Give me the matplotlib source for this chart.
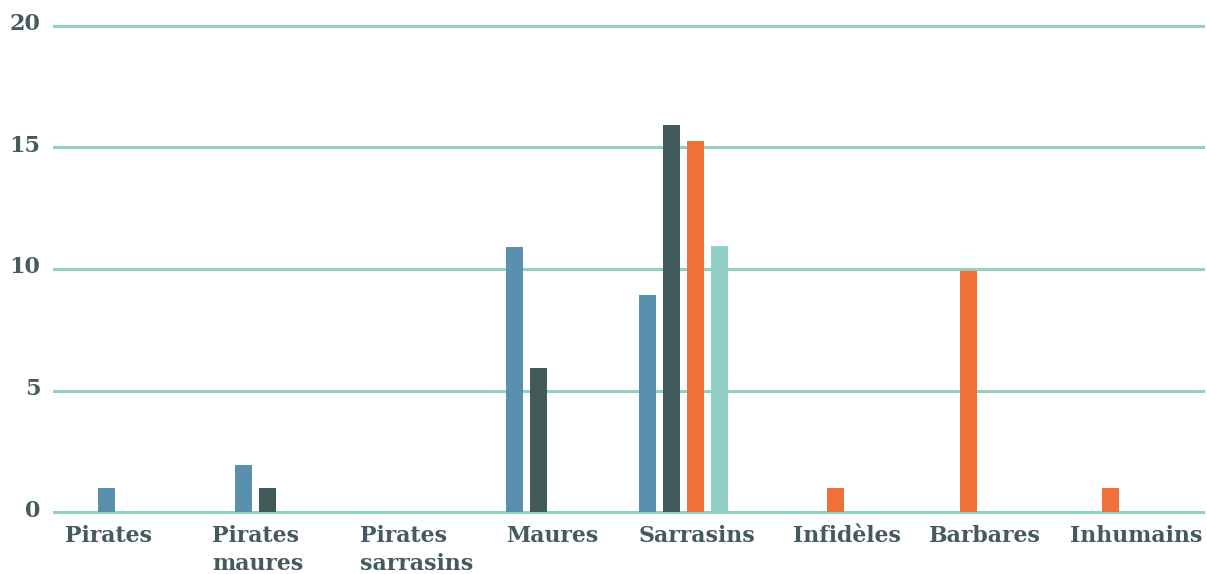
import matplotlib
matplotlib.use("Agg")
import matplotlib.pyplot as plt
import matplotlib.transforms as mtrans
import numpy as np

categories = ["Pirates", "Pirates\nmaures", "Pirates\nsarrasins", "Maures",
              "Sarrasins", "Infidèles", "Barbares", "Inhumains"]
# four series
serie_a = [1, 1.95, 0, 10.9, 8.95, 0, 0, 0]
serie_b = [0, 1, 0, 5.95, 15.9, 0, 0, 0]
serie_c = [0, 0, 0, 0, 15.25, 1, 9.9, 1]
serie_d = [0, 0, 0, 0, 10.95, 0, 0, 0]
series = [serie_a, serie_b, serie_c, serie_d]
colors = ["#5a90ad", "#435a5b", "#ef7139", "#92cfc5"]

yticks = [0, 5, 10, 15, 20]

text_color = "#455a5c"
grid_color = "#92cfc4"

W, H = 1207, 574
fig = plt.figure(figsize=(W / 100, H / 100), dpi=100)
px_unit = 24.33
y0_px = 512.3
ylo, yhi = -0.5, 20.5
bottom_px = y0_px - ylo * px_unit
top_px = y0_px - yhi * px_unit
left_px, right_px = 53, 1205
ax = fig.add_axes([left_px / W, 1 - bottom_px / H,
                   (right_px - left_px) / W, (bottom_px - top_px) / H])

# layout: horizontal scale in pixels of the figure
ax.set_xlim(left_px, right_px)
ax.set_ylim(ylo, yhi)

group_left = [98, 235, 370.5, 506, 639, 779, 912, 1054]   # left edge of first slot
label_center = [109, 258, 417, 552, 697, 847, 984.5, 1136.5]
slot = 24
bw = 17
gl = np.array(group_left)
for i, (vals, c) in enumerate(zip(series, colors)):
    ax.bar(gl + i * slot, vals, width=bw, align="edge", color=c, zorder=3, linewidth=0)

for s in ax.spines.values():
    s.set_visible(False)
ax.set_yticks(yticks)
ax.yaxis.grid(True, color=grid_color, linewidth=2.2, zorder=1)
ax.set_axisbelow(True)
ax.tick_params(axis="y", length=0, pad=9, labelsize=16, labelcolor=text_color)
for lab in ax.get_yticklabels():
    lab.set_fontfamily("DejaVu Serif")
    lab.set_fontweight("bold")
    lab.set_transform(lab.get_transform() + mtrans.ScaledTranslation(0, 4 / 100, fig.dpi_scale_trans))
ax.set_xticks([])

for pos, lab in zip(label_center, categories):
    ax.text(pos, -0.54, lab, ha="center", va="top", multialignment="left",
            fontsize=15.8, fontweight="bold", family="DejaVu Serif",
            color=text_color, linespacing=1.3)

fig.savefig("out.png", dpi=100)
